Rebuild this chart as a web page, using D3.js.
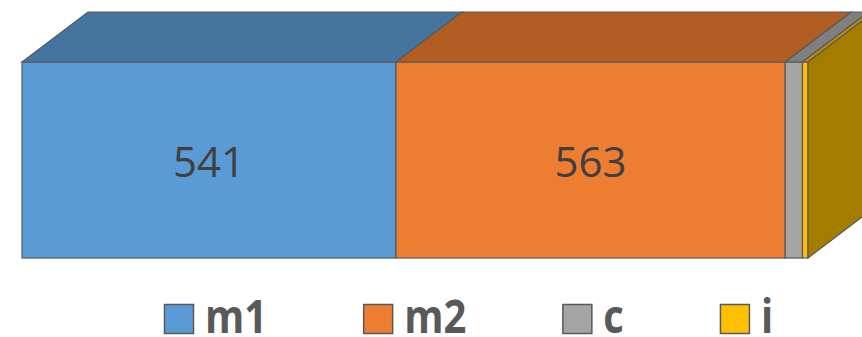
<!DOCTYPE html>
<html>
<head>
<meta charset="utf-8">
<script src="https://cdn.jsdelivr.net/npm/d3@7"></script>
<style>
  html, body { margin: 0; padding: 0; background: #fff; }
  svg { display: block; }
</style>
</head>
<body>
<div id="chart"></div>
<script>
// series in stack order
const seriesNames = ['m1', 'm2', 'c', 'i'];
const seriesValues = [541, 563, 25, 8];
const showLabel = [true, true, false, false];

const frontColors = ['#5B9BD5', '#ED7D31', '#A5A5A5', '#FFC000'];
const topColors = ['#44759F', '#B25D22', '#7F7F7F', '#BF9000'];
const sideColors = ['#44759F', '#B25D22', '#7C7C7C', '#A37C00'];

const width = 862, height = 337;
const front = {left: 22, top: 62, bottom: 258};
const depth = {dx: 66, dy: -50};
const outline = '#595959';

// stacked offsets
let acc = 0;
const stack = seriesValues.map((v, i) => {
	const d = {name: seriesNames[i], value: v, x0: acc, x1: acc + v, i: i};
	acc += v;
	return d;
});

const xScale = d3.scaleLinear()
	.domain([0, d3.sum(seriesValues)])
	.range([front.left, front.left + 786]);

const svg = d3.select('#chart')
	.append('svg')
	.attr('width', width)
	.attr('height', height);

const bar = svg.append('g').attr('class', 'bar');

// front faces
bar.selectAll('rect.front')
	.data(stack)
	.enter()
	.append('rect')
	.attr('class', 'front')
	.attr('x', d => xScale(d.x0))
	.attr('y', front.top)
	.attr('width', d => xScale(d.x1) - xScale(d.x0))
	.attr('height', front.bottom - front.top)
	.attr('fill', d => frontColors[d.i])
	.attr('stroke', outline)
	.attr('stroke-width', 1.2);

// top faces
bar.selectAll('path.top')
	.data(stack)
	.enter()
	.append('path')
	.attr('class', 'top')
	.attr('d', d => {
		const a = xScale(d.x0), b = xScale(d.x1);
		return `M${a},${front.top}L${a + depth.dx},${front.top + depth.dy}L${b + depth.dx},${front.top + depth.dy}L${b},${front.top}Z`;
	})
	.attr('fill', d => topColors[d.i])
	.attr('stroke', outline)
	.attr('stroke-width', 1.2);

// right side of the last segment
const last = stack[stack.length - 1];
const xr = xScale(last.x1);
bar.append('path')
	.attr('d', `M${xr},${front.top}L${xr + depth.dx},${front.top + depth.dy}L${xr + depth.dx},${front.bottom + depth.dy}L${xr},${front.bottom}Z`)
	.attr('fill', sideColors[last.i])
	.attr('stroke', outline)
	.attr('stroke-width', 1.2);

// value labels
bar.selectAll('text.value')
	.data(stack.filter(d => showLabel[d.i]))
	.enter()
	.append('text')
	.attr('class', 'value')
	.attr('x', d => (xScale(d.x0) + xScale(d.x1)) / 2)
	.attr('y', 177)
	.attr('text-anchor', 'middle')
	.attr('font-family', '"Open Sans", sans-serif')
	.attr('font-size', 42)
	.attr('fill', '#404040')
	.text(d => d.value);

// legend (text is squeezed horizontally to mimic the narrow original face)
const legend = svg.append('g').attr('class', 'legend');
let lx = 164;
const sq = 29, gapText = 12, gapItem = 96, baseY = 333, squeeze = 0.87;
seriesNames.forEach((name, i) => {
	const g = legend.append('g');
	g.append('rect')
		.attr('x', lx + 0.5)
		.attr('y', 304.5)
		.attr('width', sq)
		.attr('height', sq)
		.attr('fill', frontColors[i])
		.attr('stroke', outline)
		.attr('stroke-width', 1.5);
	const tx = lx + sq + gapText;
	const t = g.append('text')
		.attr('transform', `translate(${tx},${baseY}) scale(${squeeze},1)`)
		.attr('font-family', '"Open Sans", sans-serif')
		.attr('font-weight', 700)
		.attr('font-size', 46)
		.attr('fill', '#595959')
		.text(name);
	const w = t.node().getComputedTextLength() * squeeze;
	lx = tx + w + gapItem;
});
</script>
</body>
</html>
